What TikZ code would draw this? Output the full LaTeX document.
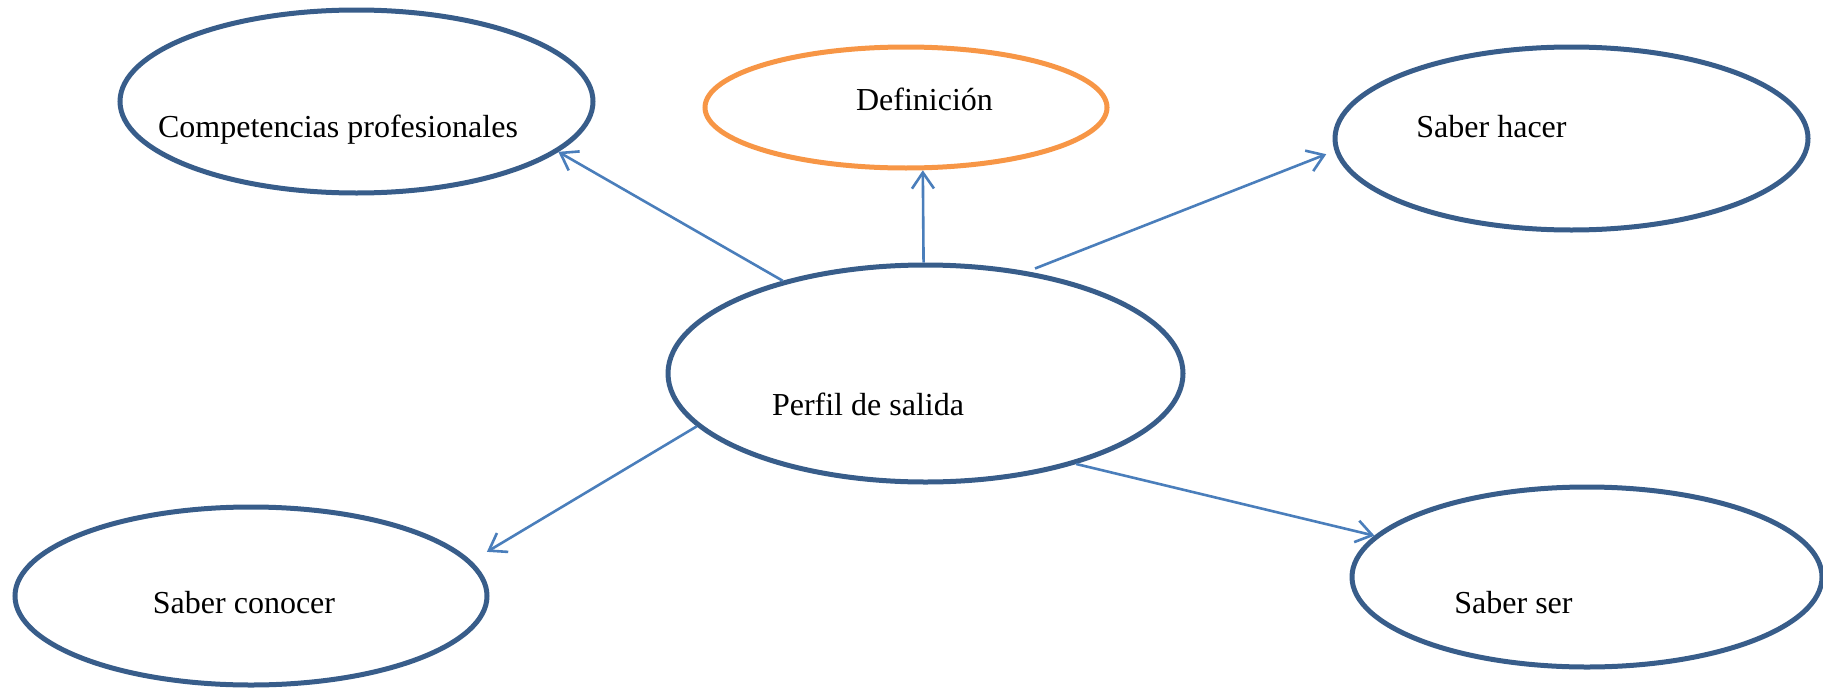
\documentclass[tikz,border=0pt]{standalone}
\usepackage{fontspec}
\setmainfont{Liberation Serif}
\usetikzlibrary{shapes.geometric,arrows.meta}
\definecolor{bubbleblue}{HTML}{385D8A}
\definecolor{linkblue}{HTML}{4A7EBB}
\definecolor{deforange}{HTML}{F79646}

\begin{document}
\begin{tikzpicture}[x=1pt,y=-1pt,
    bubble/.style={ellipse,draw=bubbleblue,line width=5pt,inner sep=0pt},
    link/.style={draw=linkblue,line width=2.6pt,-{Straight Barb[length=16pt,width=22pt,line width=2.6pt]}},
    txt/.style={anchor=base,font=\fontsize{32}{38}\selectfont}]
    \useasboundingbox (0,0) rectangle (1823,688);
    % ellipses
    \node[bubble,minimum width=473pt,minimum height=183pt] (comp) at (356.5,101.5) {};
    \node[bubble,draw=deforange,minimum width=402pt,minimum height=121pt] (def) at (906,107.5) {};
    \node[bubble,minimum width=473pt,minimum height=183pt] (hacer) at (1571.5,138.5) {};
    \node[bubble,minimum width=515pt,minimum height=217pt] (perfil) at (925.5,373.5) {};
    \node[bubble,minimum width=472pt,minimum height=178pt] (conocer) at (251,596) {};
    \node[bubble,minimum width=470pt,minimum height=180pt] (ser) at (1587,577) {};
    % texts
    \node[txt] (compt) at (338,137) {Competencias profesionales};
    \node[txt] (deft) at (924.5,110) {Definición};
    \node[txt] (hacert) at (1491.5,137) {Saber hacer};
    \node[txt] (perfilt) at (868,415) {Perfil de salida};
    \node[txt] (conocert) at (244,613) {Saber conocer};
    \node[txt] (sert) at (1513.5,613) {Saber ser};
    % arrows
    \draw[link] (perfil.147) -- (comp.346);
    \draw[link] (perfil.91) -- (def.285);
    \draw[link,shorten <=8pt,shorten >=9pt] (perfil.45) -- (hacer.183);
    \draw[link,shorten >=18pt] (perfil.193) -- (conocer.9);
    \draw[link] (perfil.329) -- (ser.169);
\end{tikzpicture}
\end{document}
